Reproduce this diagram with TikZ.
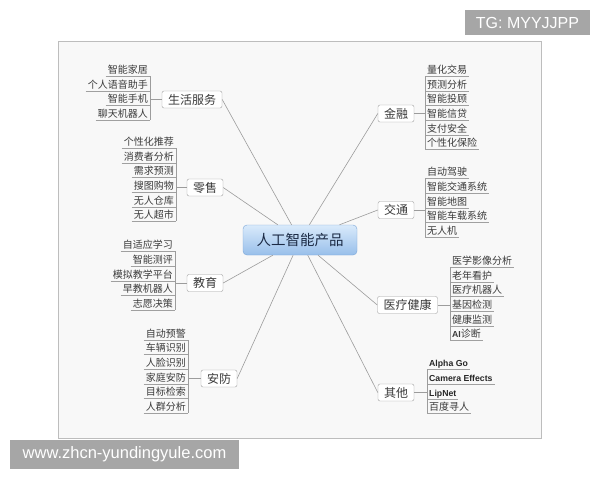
\documentclass[tikz,border=0pt]{standalone}
\usepackage{fontspec}
\setmainfont{Liberation Sans}
\newfontfamily\cjk{Noto Sans CJK SC}
\definecolor{panelbg}{HTML}{F8F8F8}
\definecolor{panelline}{HTML}{BDBDBD}
\definecolor{linkgray}{HTML}{9C9C9C}
\definecolor{boxline}{HTML}{A0A0A0}
\definecolor{leaftext}{HTML}{3A3A3A}
\definecolor{roottop}{HTML}{D9EAFB}
\definecolor{rootbot}{HTML}{98BFEA}
\definecolor{rootline}{HTML}{7AA6D8}
\definecolor{roottext}{HTML}{1C2B45}
\definecolor{wmgray}{HTML}{A6A6A6}
\begin{document}
\begin{tikzpicture}[x=1pt,y=-1pt,
  root/.style={draw=rootline, top color=roottop, bottom color=rootbot, rounded corners=4pt,
    minimum width=114pt, minimum height=30pt, text=roottext, font=\cjk\fontsize{14.5}{14.5}\selectfont},
  branch/.style={draw=boxline, fill=white, rounded corners=2pt, inner xsep=6pt, inner ysep=0pt,
    minimum height=17pt, text=leaftext, font=\cjk\fontsize{12}{12}\selectfont},
  uline/.style={draw=boxline, line width=0.6pt},
  leaf/.style={inner xsep=2pt, inner ysep=1pt, text height=8.3pt, text depth=1.2pt,
    text=leaftext, font=\cjk\fontsize{10}{10}\selectfont,
    append after command={\pgfextra{\let\leafnode=\tikzlastnode}
      (\leafnode.south west) edge[uline] (\leafnode.south east)}},
  leafl/.style={leaf, anchor=south east},
  leafr/.style={leaf, anchor=south west},
  latin/.style={font=\rmfamily\bfseries\fontsize{8.7}{8.7}\selectfont, text=black!85},
  link/.style={draw=linkgray, line width=0.6pt},
  wmbox/.style={fill=wmgray, text=white, inner sep=0pt}
]
\useasboundingbox (0,0) rectangle (600,480);
\filldraw[fill=panelbg, draw=panelline, line width=0.8pt] (58,41) rectangle (541,438);

\node[root] (ai) at (300,240) {人工智能产品};

% left side
\node[branch] (life) at (192,99.5) {生活服务};
\node[leafl] (life1) at (150,76) {智能家居};
\node[leafl] (life2) at (150,91) {个人语音助手};
\node[leafl] (life3) at (150,105) {智能手机};
\node[leafl] (life4) at (150,120) {聊天机器人};

\node[branch] (shop) at (205,187.5) {零售};
\node[leafl] (shop1) at (176,148) {个性化推荐};
\node[leafl] (shop2) at (176,163) {消费者分析};
\node[leafl] (shop3) at (176,177) {需求预测};
\node[leafl] (shop4) at (176,192) {搜图购物};
\node[leafl] (shop5) at (176,207) {无人仓库};
\node[leafl] (shop6) at (176,221) {无人超市};

\node[branch] (edu) at (205,283) {教育};
\node[leafl] (edu1) at (175,251) {自适应学习};
\node[leafl] (edu2) at (175,266) {智能测评};
\node[leafl] (edu3) at (175,281) {模拟教学平台};
\node[leafl] (edu4) at (175,295) {早教机器人};
\node[leafl] (edu5) at (175,310) {志愿决策};

\node[branch] (safe) at (219,378.5) {安防};
\node[leafl] (safe1) at (188,340) {自动预警};
\node[leafl] (safe2) at (188,354) {车辆识别};
\node[leafl] (safe3) at (188,369) {人脸识别};
\node[leafl] (safe4) at (188,384) {家庭安防};
\node[leafl] (safe5) at (188,398) {目标检索};
\node[leafl] (safe6) at (188,413) {人群分析};

% right side
\node[branch] (fin) at (396,113.5) {金融};
\node[leafr] (fin1) at (425,76) {量化交易};
\node[leafr] (fin2) at (425,91) {预测分析};
\node[leafr] (fin3) at (425,105) {智能投顾};
\node[leafr] (fin4) at (425,120) {智能信贷};
\node[leafr] (fin5) at (425,135) {支付安全};
\node[leafr] (fin6) at (425,149) {个性化保险};

\node[branch] (traf) at (396,210) {交通};
\node[leafr] (traf1) at (425,178) {自动驾驶};
\node[leafr] (traf2) at (425,193) {智能交通系统};
\node[leafr] (traf3) at (425,208) {智能地图};
\node[leafr] (traf4) at (425,222) {智能车载系统};
\node[leafr] (traf5) at (425,237) {无人机};

\node[branch] (med) at (407.5,305) {医疗健康};
\node[leafr] (med1) at (450,267) {医学影像分析};
\node[leafr] (med2) at (450,282) {老年看护};
\node[leafr] (med3) at (450,296) {医疗机器人};
\node[leafr] (med4) at (450,311) {基因检测};
\node[leafr] (med5) at (450,326) {健康监测};
\node[leafr] (med6) at (450,340) {{\rmfamily\bfseries\fontsize{8.7}{8.7}\selectfont AI}诊断};

\node[branch] (misc) at (396,392.5) {其他};
\node[leafr, latin] (misc1) at (427,369) {Alpha Go};
\node[leafr, latin] (misc2) at (427,384) {Camera Effects};
\node[leafr, latin] (misc3) at (427,399) {LipNet};
\node[leafr] (misc4) at (427,413) {百度寻人};

% from the root
\draw[link] (ai) -- (life.east);
\draw[link] (ai) -- (shop.east);
\draw[link] (ai) -- (edu.east);
\draw[link] (ai) -- (safe.east);
\draw[link] (ai) -- (fin.west);
\draw[link] (ai) -- (traf.west);
\draw[link] (ai) -- (med.west);
\draw[link] (ai) -- (misc.west);

% brackets
\draw[link] (life.west) -- (life.west -| life1.south east);
\draw[link] (life1.south east) -- (life4.south east);
\draw[link] (shop.west) -- (shop.west -| shop1.south east);
\draw[link] (shop1.south east) -- (shop6.south east);
\draw[link] (edu.west) -- (edu.west -| edu1.south east);
\draw[link] (edu1.south east) -- (edu5.south east);
\draw[link] (safe.west) -- (safe.west -| safe1.south east);
\draw[link] (safe1.south east) -- (safe6.south east);
\draw[link] (fin.east) -- (fin.east -| fin1.south west);
\draw[link] (fin1.south west) -- (fin6.south west);
\draw[link] (traf.east) -- (traf.east -| traf1.south west);
\draw[link] (traf1.south west) -- (traf5.south west);
\draw[link] (med.east) -- (med.east -| med1.south west);
\draw[link] (med1.south west) -- (med6.south west);
\draw[link] (misc.east) -- (misc.east -| misc1.south west);
\draw[link] (misc1.south west) -- (misc4.south west);

% watermarks
\node[wmbox, minimum width=125pt, minimum height=25pt, font=\fontsize{16}{16}\selectfont] (tg) at (527.5,22.5) {TG: MYYJJPP};
\node[wmbox, minimum width=229pt, minimum height=29pt, font=\fontsize{16.5}{16.5}\selectfont] (url) at (124.5,454.5) {www.zhcn-yundingyule.com};
\end{tikzpicture}
\end{document}
